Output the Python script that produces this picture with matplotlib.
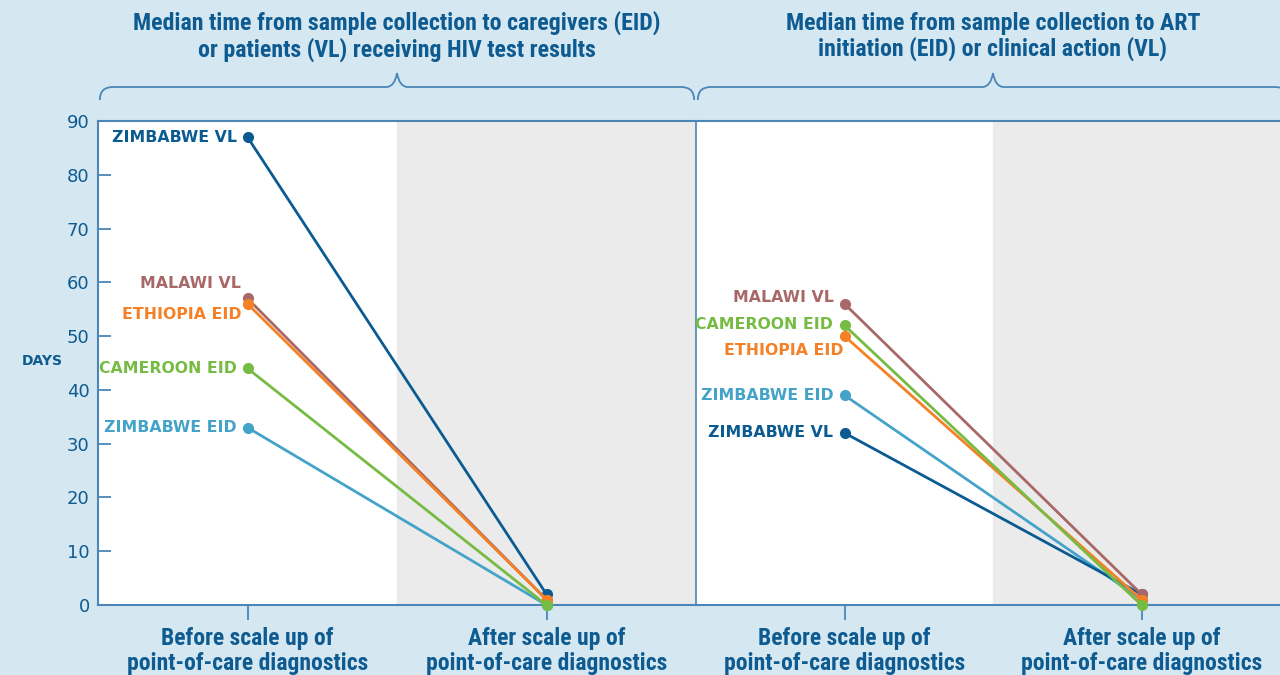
import matplotlib
matplotlib.use("Agg")
import matplotlib.pyplot as plt
from matplotlib import font_manager
from matplotlib.path import Path
from matplotlib.patches import PathPatch

# ---- data ----
stages = ["Before scale up of\npoint-of-care diagnostics",
          "After scale up of\npoint-of-care diagnostics"]
panel_titles = [
    "Median time from sample collection to caregivers (EID)\nor patients (VL) receiving HIV test results",
    "Median time from sample collection to ART\ninitiation (EID) or clinical action (VL)",
]
series = ["ZIMBABWE EID", "ZIMBABWE VL", "MALAWI VL", "ETHIOPIA EID", "CAMEROON EID"]
results_before = [33, 87, 57, 56, 44]
results_after = [0, 2, 1, 1, 0]
action_before = [39, 32, 56, 50, 52]
action_after = [1, 2, 2, 1, 0]

colors = {
    "ZIMBABWE EID": "#44a3c8",
    "ZIMBABWE VL": "#0b5b93",
    "MALAWI VL": "#a86868",
    "ETHIOPIA EID": "#f58025",
    "CAMEROON EID": "#76bc43",
}
# label nudges in pixels (dx, dy) per panel
nudges = [
    {"MALAWI VL": (4, 15), "ETHIOPIA EID": (5, -11)},
    {"MALAWI VL": (0, 6), "CAMEROON EID": (-1, 1), "ETHIOPIA EID": (10, -14)},
]

BG = "#d5e7f0"
GREY = "#ebebeb"
TXT = "#0d5b91"
SPINE = "#4a86b8"

names = {f.name for f in font_manager.fontManager.ttflist}
cond_family = None
for cand in ["Roboto Condensed", "Liberation Sans Narrow", "Open Sans Condensed"]:
    if cand in names:
        cond_family = cand
        break
if cond_family is None:
    cond = dict(family="Roboto")
    title_size, tick_size = 14, 14
else:
    cond = dict(family=cond_family)
    title_size, tick_size = 17.2, 17

W, H = 1280, 675
PX = 0.72  # points per pixel at dpi 100


def box(x0, y0, x1, y1):
    return [x0 / W, 1 - y1 / H, (x1 - x0) / W, (y1 - y0) / H]


fig = plt.figure(figsize=(12.8, 6.75), dpi=100, facecolor=BG)
axL = fig.add_axes(box(98, 121, 696, 605))
axR = fig.add_axes(box(696, 121, 1290, 605))


def brace(ax):
    yb, yf, yt = 1.0434, 1.0702, 1.099
    verts = [(0.003, yb), (0.003, yf), (0.025, yf),
             (0.482, yf),
             (0.496, yf), (0.5, yt),
             (0.504, yf), (0.518, yf),
             (0.975, yf),
             (0.997, yf), (0.997, yb)]
    codes = [Path.MOVETO, Path.CURVE3, Path.CURVE3,
             Path.LINETO,
             Path.CURVE3, Path.CURVE3,
             Path.CURVE3, Path.CURVE3,
             Path.LINETO,
             Path.CURVE3, Path.CURVE3]
    ax.add_patch(PathPatch(Path(verts, codes), transform=ax.transAxes, fill=False,
                           edgecolor=SPINE, lw=1.3, clip_on=False))


panels = [(axL, results_before, results_after), (axR, action_before, action_after)]
for i, (ax, before, after) in enumerate(panels):
    ax.set_facecolor("none")
    ax.set_xlim(0, 2)
    ax.set_ylim(0, 90)
    ax.axvspan(0, 1, color="white", zorder=0)
    ax.axvspan(1, 2, color=GREY, zorder=0)
    for name, b, a in zip(series, before, after):
        ax.plot([0.5, 1.5], [b, a], color=colors[name], lw=2, marker="o", ms=7,
                clip_on=False, zorder=3)
        dx, dy = nudges[i].get(name, (0, 0))
        ax.annotate(name, xy=(0.5, b), xytext=((-11 + dx) * PX, dy * PX),
                    textcoords="offset points", ha="right", va="center",
                    fontsize=11.3, fontweight="bold", color=colors[name])
    for s in ax.spines.values():
        s.set_color(SPINE)
        s.set_linewidth(1.5)
    ax.set_xticks([0.5, 1.5])
    ax.set_xticklabels(stages, fontsize=tick_size, fontweight="semibold", color=TXT,
                       linespacing=1.1, **cond)
    ax.tick_params(axis="x", direction="out", length=11, width=1.3, color=SPINE, pad=5)
    brace(ax)
    ax.text(0.5, 1.175, panel_titles[i], transform=ax.transAxes, ha="center", va="center",
            fontsize=title_size, fontweight="semibold", color=TXT, linespacing=1.1, **cond)

axL.spines["right"].set_visible(False)
axL.set_yticks(range(0, 91, 10))
axL.tick_params(axis="y", direction="in", length=9.4, width=1.3, color=SPINE,
                labelcolor=TXT, labelsize=13, pad=6)
axR.set_yticks([])
axR.spines["right"].set_visible(False)
axR.spines["left"].set_linewidth(1.2)

fig.text(42 / W, 1 - 361 / H, "DAYS", ha="center", va="center", fontsize=10,
         fontweight="bold", color=TXT)

fig.savefig("out.png", dpi=100, facecolor=BG)
